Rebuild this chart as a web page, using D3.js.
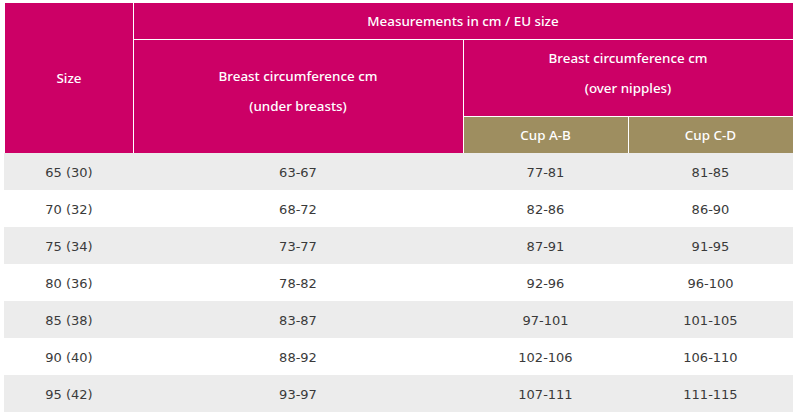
<!DOCTYPE html>
<html><head><meta charset="utf-8">
<script src="https://cdn.jsdelivr.net/npm/d3@7"></script>
<style>
html,body{margin:0;padding:0;background:#fff;}
svg{display:block;}
</style></head>
<body>
<svg id="c" width="798" height="417"></svg>
<script>
// ---- data ----
const sizes = ["65 (30)","70 (32)","75 (34)","80 (36)","85 (38)","90 (40)","95 (42)"];
const underBreasts = ["63-67","68-72","73-77","78-82","83-87","88-92","93-97"];
const cupAB = ["77-81","82-86","87-91","92-96","97-101","102-106","107-111"];
const cupCD = ["81-85","86-90","91-95","96-100","101-105","106-110","111-115"];
const headerTop = "Measurements in cm / EU size";
const headerSize = "Size";
const headerUnder = ["Breast circumference cm","(under breasts)"];
const headerOver = ["Breast circumference cm","(over nipples)"];
const cupLabels = ["Cup A-B","Cup C-D"];

// ---- layout ----
const svg = d3.select("#c");
const pink = "#cc0066", olive = "#9e8e60", grey = "#ececec", txt = "#3a3a3a";
const headFont = "'Noto Sans', sans-serif";
const bodyFont = "'DejaVu Sans', sans-serif";
const colEdges = [5, 133, 463, 628, 793];   // column boundaries
const colX = i => colEdges[i];
const y = d3.scaleBand().domain(d3.range(sizes.length)).range([153, 412]).padding(0);
const hy = {top: 3, r1: 39, r2: 116, bot: 153};

// header rects
const hdr = svg.append("g");
function rect(x0, y0, x1, y1, fill){
  hdr.append("rect").attr("x", x0).attr("y", y0).attr("width", x1-x0).attr("height", y1-y0).attr("fill", fill);
}
rect(colX(0), hy.top, colX(4), hy.bot, pink);
rect(colX(2), hy.r2, colX(4), hy.bot, olive);
// white lines
const line = (x0,y0,x1,y1) => hdr.append("line").attr("x1",x0).attr("y1",y0).attr("x2",x1).attr("y2",y1)
  .attr("stroke","#fff").attr("stroke-width",1);
line(colX(1)+0.5, hy.top, colX(1)+0.5, hy.bot);
line(colX(1), hy.r1+0.5, colX(4), hy.r1+0.5);
line(colX(2)+0.5, hy.r1, colX(2)+0.5, hy.bot);
line(colX(2), hy.r2+0.5, colX(4), hy.r2+0.5);
line(colX(3)+0.5, hy.r2, colX(3)+0.5, hy.bot);

function htext(cx, cy, s){
  hdr.append("text").attr("x", cx).attr("y", cy).attr("text-anchor","middle").attr("dominant-baseline","central")
    .attr("fill","#fff").attr("font-family", headFont).attr("font-weight", 500).attr("font-size", 13.4).text(s);
}
const mid = (a,b) => (colX(a)+colX(b))/2;
htext(mid(1,4), 21, headerTop);
htext(mid(0,1), 78, headerSize);
htext(mid(1,2), 76, headerUnder[0]);
htext(mid(1,2), 106, headerUnder[1]);
htext(mid(2,4), 58, headerOver[0]);
htext(mid(2,4), 88, headerOver[1]);
htext(mid(2,3), 135, cupLabels[0]);
htext(mid(3,4), 135, cupLabels[1]);

// body rows
const cols = [sizes, underBreasts, cupAB, cupCD];
const rows = svg.append("g").selectAll("g").data(d3.range(sizes.length)).join("g")
  .attr("transform", i => `translate(0,${y(i)})`);
rows.append("rect").attr("x", colX(0)-1).attr("width", colX(4)-colX(0)+1).attr("height", y.bandwidth())
  .attr("fill", i => i % 2 === 0 ? grey : "#fff");
rows.selectAll("text").data(i => cols.map((c, j) => ({v: c[i], j}))).join("text")
  .attr("x", d => mid(d.j, d.j+1)).attr("y", y.bandwidth()/2 + 0.5)
  .attr("text-anchor","middle").attr("dominant-baseline","central")
  .attr("fill", txt).attr("font-family", bodyFont).attr("font-size", 13).text(d => d.v);
</script>
</body></html>
